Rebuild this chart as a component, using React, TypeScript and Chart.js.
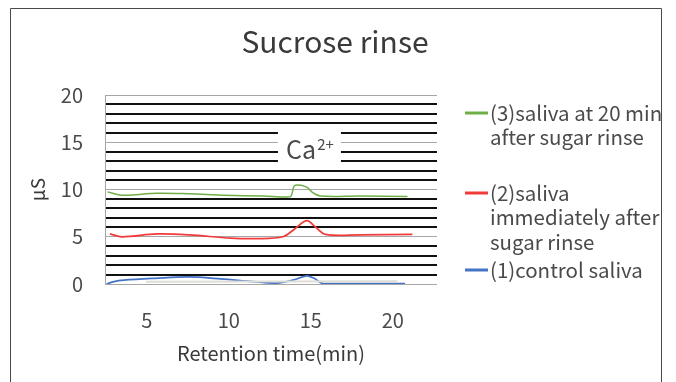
import React, { useEffect, useRef } from "react";
import { Chart, registerables } from "chart.js";

Chart.register(...registerables);

// ---------- data ----------
const chartTitle = "Sucrose rinse";
const xAxisTitle = "Retention time(min)";
const yAxisTitle = "µS";
const xTickValues = [5, 10, 15, 20];
const yTickValues = [0, 5, 10, 15, 20];
const peakLabelMain = "Ca";
const peakLabelSup = "2+";
const peakLabelPos = [14.95, 14.5]; // (min, µS)

const series3Label = ["(3)saliva at 20 min", "after sugar rinse"];
const series3Time = [2.6, 3.5, 5.6, 7.5, 9.7, 12.1, 13.5, 13.8, 14.0, 14.4, 14.8, 15.1, 15.6, 18.0, 20.9];
const series3Value = [9.75, 9.4, 9.6, 9.55, 9.4, 9.3, 9.2, 9.3, 10.4, 10.45, 10.2, 9.7, 9.3, 9.3, 9.25];

const series2Label = ["(2)saliva", "immediately after", "sugar rinse"];
const series2Time = [2.75, 3.5, 5.6, 7.6, 10.1, 11.7, 13.3, 14.0, 14.75, 15.3, 15.9, 18.0, 21.2];
const series2Value = [5.3, 5.0, 5.3, 5.2, 4.85, 4.8, 5.0, 5.8, 6.7, 6.0, 5.25, 5.2, 5.25];

const series1Label = ["(1)control saliva"];
const series1Time = [2.55, 3.0, 3.6, 5.5, 7.5, 9.5, 11.5, 12.9, 13.9, 14.75, 15.2, 15.75, 18.0, 20.75];
const series1Value = [0.0, 0.25, 0.4, 0.6, 0.75, 0.55, 0.25, 0.1, 0.4, 0.85, 0.6, 0.05, 0.05, 0.05];

const faintTime = [4.95, 20.3];
const faintValue = [0.25, 0.3];

// ---------- styles ----------
const FONT = "'Noto Sans CJK KR', 'Noto Sans', sans-serif";
const colors = { s3: "#70ad47", s2: "#f23a3a", s1: "#4472c4", faint: "#deded6" };
const textColor = "#4a4a4a";

const pts = (t: number[], v: number[]) => t.map((x, i) => ({ x, y: v[i] }));

const legendItems = [
  { lines: series3Label, color: colors.s3 },
  { lines: series2Label, color: colors.s2 },
  { lines: series1Label, color: colors.s1 },
];

const decorPlugin = {
  id: "decor",
  beforeDatasetsDraw(chart: any) {
    const { ctx, scales } = chart;
    const cx = scales.x.getPixelForValue(peakLabelPos[0]);
    const cy = scales.y.getPixelForValue(peakLabelPos[1]);
    ctx.save();
    ctx.fillStyle = "#ffffff";
    ctx.fillRect(cx - 32, cy - 17, 63, 35);
    ctx.fillStyle = textColor;
    ctx.textBaseline = "alphabetic";
    ctx.textAlign = "left";
    ctx.font = `25px ${FONT}`;
    const w1 = ctx.measureText(peakLabelMain).width;
    ctx.font = `15px ${FONT}`;
    const w2 = ctx.measureText(peakLabelSup).width;
    const start = cx - (w1 + w2 + 1) / 2;
    ctx.font = `25px ${FONT}`;
    ctx.fillText(peakLabelMain, start, cy + 12);
    ctx.font = `15px ${FONT}`;
    ctx.fillText(peakLabelSup, start + w1 + 1, cy + 3);
    ctx.restore();
  },
  afterDraw(chart: any) {
    const { ctx } = chart;
    ctx.save();
    // frame
    ctx.strokeStyle = "#4a4a4a";
    ctx.lineWidth = 1;
    ctx.beginPath();
    ctx.moveTo(10.5, 382);
    ctx.lineTo(10.5, 8.5);
    ctx.lineTo(661.5, 8.5);
    ctx.lineTo(661.5, 382);
    ctx.stroke();
    // title
    ctx.fillStyle = "#3a3a3a";
    ctx.font = `30px ${FONT}`;
    ctx.textAlign = "center";
    ctx.textBaseline = "middle";
    ctx.fillText(chartTitle, 335, 42);
    // legend
    const tops = [113, 193, 270];
    ctx.textAlign = "left";
    ctx.font = `20.5px ${FONT}`;
    legendItems.forEach((item, i) => {
      ctx.strokeStyle = item.color;
      ctx.lineWidth = 3;
      ctx.beginPath();
      ctx.moveTo(465, tops[i]);
      ctx.lineTo(488, tops[i]);
      ctx.stroke();
      ctx.fillStyle = textColor;
      item.lines.forEach((ln, k) => {
        ctx.fillText(ln, 490, tops[i] + k * 24.5);
      });
    });
    ctx.restore();
  },
};

export default function App() {
  const ref = useRef<HTMLCanvasElement>(null);
  useEffect(() => {
    if (!ref.current) return;
    const chart = new Chart(ref.current, {
      type: "line",
      data: {
        datasets: [
          { data: pts(faintTime, faintValue), borderColor: colors.faint, borderWidth: 2, pointRadius: 0, tension: 0 },
          { data: pts(series1Time, series1Value), borderColor: colors.s1, borderWidth: 1.75, pointRadius: 0, tension: 0.35 },
          { data: pts(series2Time, series2Value), borderColor: colors.s2, borderWidth: 1.75, pointRadius: 0, tension: 0.35 },
          { data: pts(series3Time, series3Value), borderColor: colors.s3, borderWidth: 1.5, pointRadius: 0, tension: 0.35 },
        ],
      },
      options: {
        responsive: false,
        animation: false,
        events: [],
        layout: { padding: { left: 0, right: 239, top: 95, bottom: 0 } },
        plugins: { legend: { display: false }, tooltip: { enabled: false }, title: { display: false } },
        scales: {
          x: {
            type: "linear",
            min: 2.45,
            max: 22.7,
            afterBuildTicks: (s: any) => {
              s.ticks = xTickValues.map((value) => ({ value }));
            },
            afterFit: (s: any) => {
              s.height = 98;
            },
            grid: { display: false },
            border: { display: false },
            ticks: { color: textColor, font: { family: FONT, size: 20 }, padding: 16, maxRotation: 0 },
            title: { display: true, text: xAxisTitle, color: "#3a3a3a", font: { family: FONT, size: 20 }, padding: { top: 0, bottom: 17 } },
          },
          y: {
            min: 0,
            max: 20,
            afterFit: (s: any) => {
              s.width = 105;
            },
            grid: {
              drawTicks: false,
              color: (c: any) => (yTickValues.includes(c.tick.value) ? "#a6a6a6" : "#111111"),
              lineWidth: (c: any) => (yTickValues.includes(c.tick.value) ? 1 : 2),
            },
            border: { display: true, color: "#a6a6a6", width: 1 },
            ticks: {
              stepSize: 1,
              autoSkip: false,
              color: textColor,
              font: { family: FONT, size: 20 },
              padding: 22,
              callback: (v: any) => (yTickValues.includes(v) ? String(v) : ""),
            },
            title: { display: true, text: yAxisTitle, color: "#3a3a3a", font: { family: FONT, size: 19 }, padding: { top: 26, bottom: 0 } },
          },
        },
      },
      plugins: [decorPlugin],
    });
    return () => chart.destroy();
  }, []);
  return (
    <div style={{ position: "fixed", left: 0, top: 0, width: 676, height: 382, background: "#fff" }}>
      <canvas ref={ref} width={676} height={382} />
    </div>
  );
}
